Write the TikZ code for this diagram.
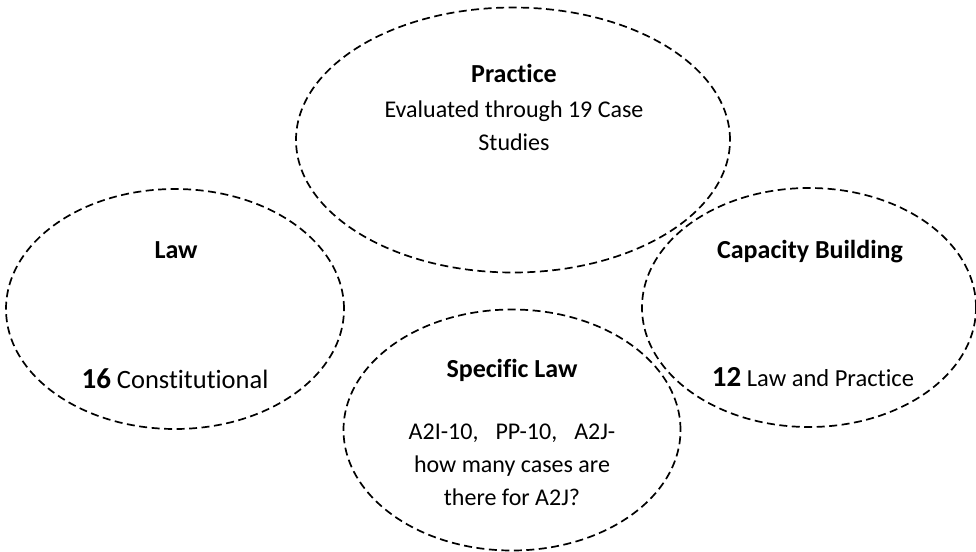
\documentclass[tikz,border=0pt]{standalone}
\usepackage{fontspec}
\setmainfont{Carlito}[RawFeature={-liga,-dlig}]
\usetikzlibrary{shapes.geometric}

\newcommand\bignum[1]{{\fontsize{29}{32}\selectfont\bfseries #1}}

\tikzstyle{bubble}=[ellipse,draw,dash pattern=on 8pt off 4.5pt,line width=1.7pt,inner sep=0pt]
\tikzstyle{txt}=[align=center,inner sep=0pt]
\tikzstyle{title}=[txt,font=\fontsize{26}{32}\selectfont\bfseries]

\begin{document}
\begin{tikzpicture}[x=1pt,y=-1pt,font=\fontsize{24}{33}\selectfont]
  \useasboundingbox (0,0) rectangle (976,551);
  % the four groups
  \node[bubble,minimum width=434pt,minimum height=265pt] (practice) at (513,140) {};
  \node[bubble,minimum width=338pt,minimum height=240pt] (law) at (175,309) {};
  \node[bubble,minimum width=337pt,minimum height=241pt] (specific) at (512,430) {};
  \node[bubble,minimum width=334pt,minimum height=239pt] (capacity) at (809,307.5) {};
  % labels
  \node[title] (practicetitle) at (514,73) {Practice};
  \node[txt,anchor=north] (practicetext) at (514,101) {Evaluated through 19 Case\\Studies};
  \node[title] (lawtitle) at (176,250) {Law};
  \node[txt,font=\fontsize{26.5}{32}\selectfont] (lawtext) at (175,379) {\bignum{16} Constitutional};
  \node[title] (specifictitle) at (512,370) {Specific Law};
  \node[txt,anchor=north] (specifictext) at (512,424) {A2I-10,\hspace{17pt}PP-10,\hspace{17pt}A2J-\\how many cases are\\there for A2J?};
  \node[title] (capacitytitle) at (810,252) {Capacity Building};
  \node[txt,font=\fontsize{24.5}{32}\selectfont] (capacitytext) at (813,377) {\bignum{12} Law and Practice};
\end{tikzpicture}
\end{document}
